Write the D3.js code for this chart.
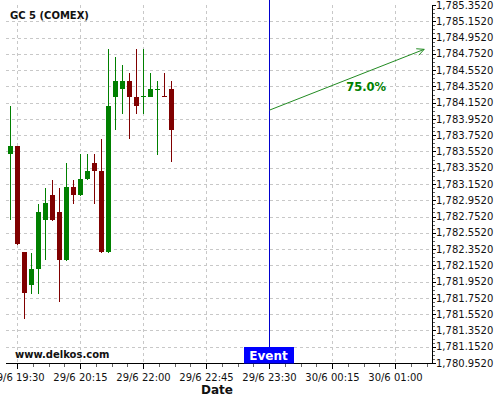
<!DOCTYPE html>
<html><head><meta charset="utf-8">
<script src="https://cdn.jsdelivr.net/npm/d3@7/dist/d3.min.js"></script>
<style>body{margin:0;background:#fff;}svg{display:block;font-family:"DejaVu Sans",sans-serif;}</style>
</head><body>
<script>
// ---- data ----
const title = "GC 5 (COMEX)";
const opens  = [1783.522,1783.617,1782.312,1781.910,1782.103,1782.710,1783.014,1782.804,1782.214,1783.112,1783.014,1783.210,1783.407,1783.309,1782.312,1784.223,1784.322,1784.420,1784.223,1784.228,1784.223,1784.322,1784.228,1784.318];
const highs  = [1784.109,1783.617,1782.312,1782.308,1782.911,1783.108,1783.207,1783.108,1783.407,1783.207,1783.518,1783.518,1783.518,1783.711,1784.807,1784.708,1784.610,1784.511,1784.807,1784.807,1784.511,1784.413,1784.511,1784.413];
const lows   = [1782.706,1782.400,1781.496,1781.804,1781.804,1782.214,1782.697,1781.705,1782.205,1782.911,1783.005,1783.202,1782.911,1782.303,1782.303,1783.814,1784.010,1783.711,1784.010,1784.010,1784.216,1783.514,1784.216,1783.420];
const closes = [1783.617,1782.410,1781.811,1782.103,1782.804,1782.915,1782.710,1782.217,1783.112,1783.017,1783.210,1783.309,1783.309,1782.312,1784.109,1784.420,1784.420,1784.223,1784.113,1784.228,1784.318,1784.322,1784.228,1783.817];
const dojiUp = [false,false,false,false,false,false,false,false,false,false,false,false,false,false,false,false,false,false,false,true,false,true,false,false];
const xTickIdx = [1,10,19,28,37,46,55];
const xTickLabels = ["29/6 19:30","29/6 20:15","29/6 22:00","29/6 22:45","29/6 23:30","30/6 00:15","30/6 01:00"];
const yTicks = d3.range(0,23).map(k => +(1780.952 + 0.2*k).toFixed(3));
const eventIdx = 37;
const eventLabel = "Event";
const arrowFrom = [37, 1784.060];
const arrowTo = [59.1, 1784.807];
const arrowLabel = "75.0%";
const watermark = "www.delkos.com";
const xTitle = "Date";

// ---- layout ----
const W = 500, H = 400;
const L = 6, R = 432, T = 5, B = 363;
const svg = d3.select("body").append("svg").attr("width", W).attr("height", H);

const x = d3.scaleLinear().domain([-0.643, 60.214]).range([L, R]);
const y = d3.scaleLinear().domain([1780.952, 1785.352]).range([B, T]);

// grid
const grid = svg.append("g").attr("stroke", "#c8c8c8").attr("stroke-dasharray", "3,3").attr("shape-rendering", "crispEdges");
grid.selectAll("line.h").data(yTicks.slice(0, -1)).enter().append("line")
  .attr("x1", L).attr("x2", R).attr("y1", d => Math.round(y(d)) + 0.5).attr("y2", d => Math.round(y(d)) + 0.5);
grid.selectAll("line.v").data(xTickIdx).enter().append("line")
  .attr("y1", T).attr("y2", B).attr("x1", d => Math.floor(x(d)) + 0.5).attr("x2", d => Math.floor(x(d)) + 0.5);

// candles
const idx = d3.range(opens.length);
const cg = svg.append("g").attr("shape-rendering", "crispEdges");
const colorOf = i => (closes[i] > opens[i] || (closes[i] === opens[i] && dojiUp[i])) ? "#008000" : "#800000";
cg.selectAll("line.w").data(idx).enter().append("line")
  .attr("x1", i => Math.floor(x(i)) + 0.5).attr("x2", i => Math.floor(x(i)) + 0.5)
  .attr("y1", i => y(highs[i])).attr("y2", i => y(lows[i]))
  .attr("stroke", colorOf).attr("stroke-width", 1);
cg.selectAll("rect").data(idx).enter().append("rect")
  .attr("x", i => Math.floor(x(i)) - 2)
  .attr("width", 5)
  .attr("y", i => Math.min(y(opens[i]), y(closes[i])))
  .attr("height", i => Math.max(1, Math.abs(y(opens[i]) - y(closes[i]))))
  .attr("fill", colorOf);

// event line
svg.append("line").attr("x1", Math.floor(x(eventIdx)) + 0.5).attr("x2", Math.floor(x(eventIdx)) + 0.5)
  .attr("y1", T - 5).attr("y2", B).attr("stroke", "#0000cd").attr("stroke-width", 1).attr("shape-rendering", "crispEdges");

// arrow
const ax0 = x(arrowFrom[0]), ay0 = y(arrowFrom[1]), ax1 = x(arrowTo[0]), ay1 = y(arrowTo[1]);
const ang = Math.atan2(ay1 - ay0, ax1 - ax0);
const ah = 8, aw = 0.45;
svg.append("line").attr("x1", ax0).attr("y1", ay0).attr("x2", ax1).attr("y2", ay1).attr("stroke", "#228b22").attr("stroke-width", 1);
svg.append("path").attr("fill", "none").attr("stroke", "#228b22").attr("stroke-width", 1)
  .attr("d", `M${ax1 - ah*Math.cos(ang - aw)},${ay1 - ah*Math.sin(ang - aw)}L${ax1},${ay1}L${ax1 - ah*Math.cos(ang + aw)},${ay1 - ah*Math.sin(ang + aw)}`);
const tf = 0.625;
svg.append("text").attr("x", ax0 + tf*(ax1 - ax0)).attr("y", ay0 + tf*(ay1 - ay0) + 18.5)
  .attr("text-anchor", "middle").attr("font-weight", "bold").attr("font-size", "11.5px").attr("fill", "#008000").text(arrowLabel);

// right axis
const ya = svg.append("g").attr("transform", `translate(${R + 0.5},0)`);
ya.append("line").attr("y1", T).attr("y2", B + 0.5).attr("stroke", "#000").attr("shape-rendering", "crispEdges");
const yMinor = d3.range(0, 89).map(k => 1780.952 + 0.05*k);
ya.selectAll("line.mi").data(yMinor).enter().append("line")
  .attr("x1", 0).attr("x2", 2).attr("y1", d => Math.round(y(d)) + 0.5).attr("y2", d => Math.round(y(d)) + 0.5)
  .attr("stroke", "#666").attr("shape-rendering", "crispEdges");
ya.selectAll("line.ma").data(yTicks).enter().append("line")
  .attr("x1", 0).attr("x2", 3).attr("y1", d => Math.round(y(d)) + 0.5).attr("y2", d => Math.round(y(d)) + 0.5)
  .attr("stroke", "#000").attr("shape-rendering", "crispEdges");
ya.selectAll("text").data(yTicks).enter().append("text")
  .attr("x", 3.5).attr("y", d => y(d) + 3.6).attr("font-size", "10px").attr("fill", "#111")
  .text(d => d3.format(",.4f")(d));

// bottom axis
const xa = svg.append("g").attr("transform", `translate(0,${B + 0.5})`);
xa.append("line").attr("x1", L).attr("x2", R + 1).attr("stroke", "#000").attr("shape-rendering", "crispEdges");
const xMinor = d3.range(-1, 27).map(k => xTickIdx[0] + 2.25*k).filter(v => x(v) >= L && x(v) <= R);
xa.selectAll("line.mi").data(xMinor).enter().append("line")
  .attr("x1", d => Math.floor(x(d)) + 0.5).attr("x2", d => Math.floor(x(d)) + 0.5).attr("y1", 0).attr("y2", 3)
  .attr("stroke", "#666").attr("shape-rendering", "crispEdges");
xa.selectAll("line.ma").data(xTickIdx).enter().append("line")
  .attr("x1", d => Math.floor(x(d)) + 0.5).attr("x2", d => Math.floor(x(d)) + 0.5).attr("y1", 0).attr("y2", 5)
  .attr("stroke", "#000").attr("shape-rendering", "crispEdges");
xa.selectAll("text").data(xTickIdx).enter().append("text")
  .attr("x", d => x(d)).attr("y", 17).attr("text-anchor", "middle").attr("font-size", "10px").attr("fill", "#111")
  .text((d, i) => xTickLabels[i]);
svg.append("text").attr("x", 217).attr("y", 393.5).attr("text-anchor", "middle").attr("font-weight", "bold")
  .attr("font-size", "12px").attr("fill", "#111").text(xTitle);

// event label
const ex = x(eventIdx);
svg.append("rect").attr("x", ex - 25.5).attr("y", 347).attr("width", 50).attr("height", 16.5).attr("fill", "#0000ff");
svg.append("text").attr("x", ex - 1).attr("y", 360).attr("text-anchor", "middle").attr("font-weight", "bold")
  .attr("font-size", "12px").attr("fill", "#fff").text(eventLabel);

// title & watermark
svg.append("text").attr("x", 10).attr("y", 19).attr("font-weight", "bold").attr("font-size", "10px").attr("fill", "#111").text(title);
svg.append("text").attr("x", 15).attr("y", 357.5).attr("font-weight", "bold").attr("font-size", "10px").attr("fill", "#111").text(watermark);
</script>
</body></html>
